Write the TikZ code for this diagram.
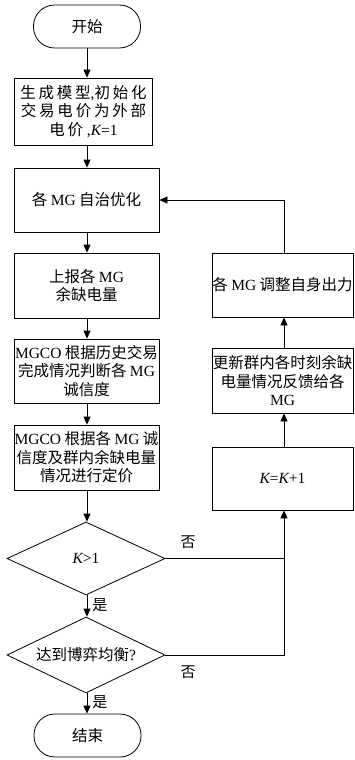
\documentclass[tikz,border=0pt]{standalone}
\usepackage{fontspec}
\setmainfont{Noto Sans CJK SC}
\newfontfamily\lat{Liberation Serif}
\newfontfamily\cjkw[LetterSpace=18]{Noto Sans CJK SC}
\usetikzlibrary{arrows.meta,shapes.geometric}
\newcommand{\Kit}{{\lat\itshape K}}
\begin{document}
\begin{tikzpicture}[x=1pt,y=-1pt,
  every node/.style={font=\fontsize{15.5}{18.5}\selectfont, inner sep=0pt, align=center},
  box/.style={draw, line width=0.8pt, minimum height=65pt},
  term/.style={draw, line width=0.8pt, rounded corners=21pt, minimum width=107pt, minimum height=43pt},
  dia/.style={draw, line width=0.8pt, shape=diamond, aspect=2.1, minimum width=158pt},
  arr/.style={line width=0.8pt, -{Triangle[length=8pt,width=7pt]}},
  ln/.style={line width=0.8pt},
  lbl/.style={font=\fontsize{15}{18}\selectfont}]
\useasboundingbox (0,0) rectangle (354,760);
% main column
\node[term] (start) at (87,26.5) {开始};
\node[box, minimum width=138pt, minimum height=67pt] (b1) at (83.5,111.5)
  {\cjkw 生成模型{\lat ,}初始化\\\cjkw 交易电价为外部\\\cjkw 电价{\lat\ ,\itshape K\upshape =1}};
\node[box, minimum width=145pt, minimum height=64pt] (b2) at (86.5,200) {各 {\lat MG} 自治优化};
\node[box, minimum width=145pt, minimum height=65pt] (b3) at (86.5,285.5) {上报各 {\lat MG}\\余缺电量};
\node[box, minimum width=145pt, minimum height=64pt] (b4) at (86.5,371) {{\lat MGCO} 根据历史交易\\完成情况判断各 {\lat MG}\\诚信度};
\node[box, minimum width=145pt, minimum height=65pt] (b5) at (86.5,457.5) {{\lat MGCO} 根据各 {\lat MG} 诚\\信度及群内余缺电量\\情况进行定价};
\node[dia, minimum height=73pt] (d1) at (86,558.5) {\lat\itshape K\upshape >1};
\node[dia, minimum height=76pt] (d2) at (86,655) {达到博弈均衡{\lat ?}};
\node[term] (end) at (87.5,735.5) {结束};
% right column
\node[box, minimum width=141pt, minimum height=63pt] (kb) at (282.5,478.5) {\Kit{\lat =}\Kit{\lat +1}};
\node[box, minimum width=141pt, minimum height=65pt] (upd) at (282.5,380.5) {更新群内各时刻余缺\\电量情况反馈给各\\{\lat MG}};
\node[box, minimum width=141pt, minimum height=64pt] (adj) at (282.5,285) {各 {\lat MG} 调整自身出力};
\coordinate (j1) at (284,558.5);
\coordinate (j2) at (284,655);
\coordinate (top) at (284,200);
% arrows main
\draw[arr] (start.south -| 87,0) -- (b1.north -| 87,0);
\draw[arr] (b1.south -| 87,0) -- (b2.north -| 87,0);
\draw[arr] (b2.south -| 87,0) -- (b3.north -| 87,0);
\draw[arr] (b3.south -| 87,0) -- (b4.north -| 87,0);
\draw[arr] (b4.south -| 87,0) -- (b5.north -| 87,0);
\draw[arr] (b5.south -| 87,0) -- (d1.north -| 87,0);
\draw[arr] (d1.south -| 87,0) -- (d2.north -| 87,0) node[lbl, pos=0.45, right=5pt] {是};
\draw[arr] (d2.south -| 87,0) -- (end.north -| 87,0) node[lbl, pos=0.45, right=5pt] {是};
% loop
\draw[ln] (d1.east) -- (j1);
\draw[arr] (d2.east) -- (j2) -- (kb.south -| j2);
\draw[arr] (kb.north -| j2) -- (upd.south -| j2);
\draw[arr] (upd.north -| j2) -- (adj.south -| j2);
\draw[arr] (adj.north -| top) -- (top) -- (b2.east);
\node[lbl] (n1) at (188,542) {否};
\node[lbl] (n2) at (188,672) {否};
\end{tikzpicture}
\end{document}
